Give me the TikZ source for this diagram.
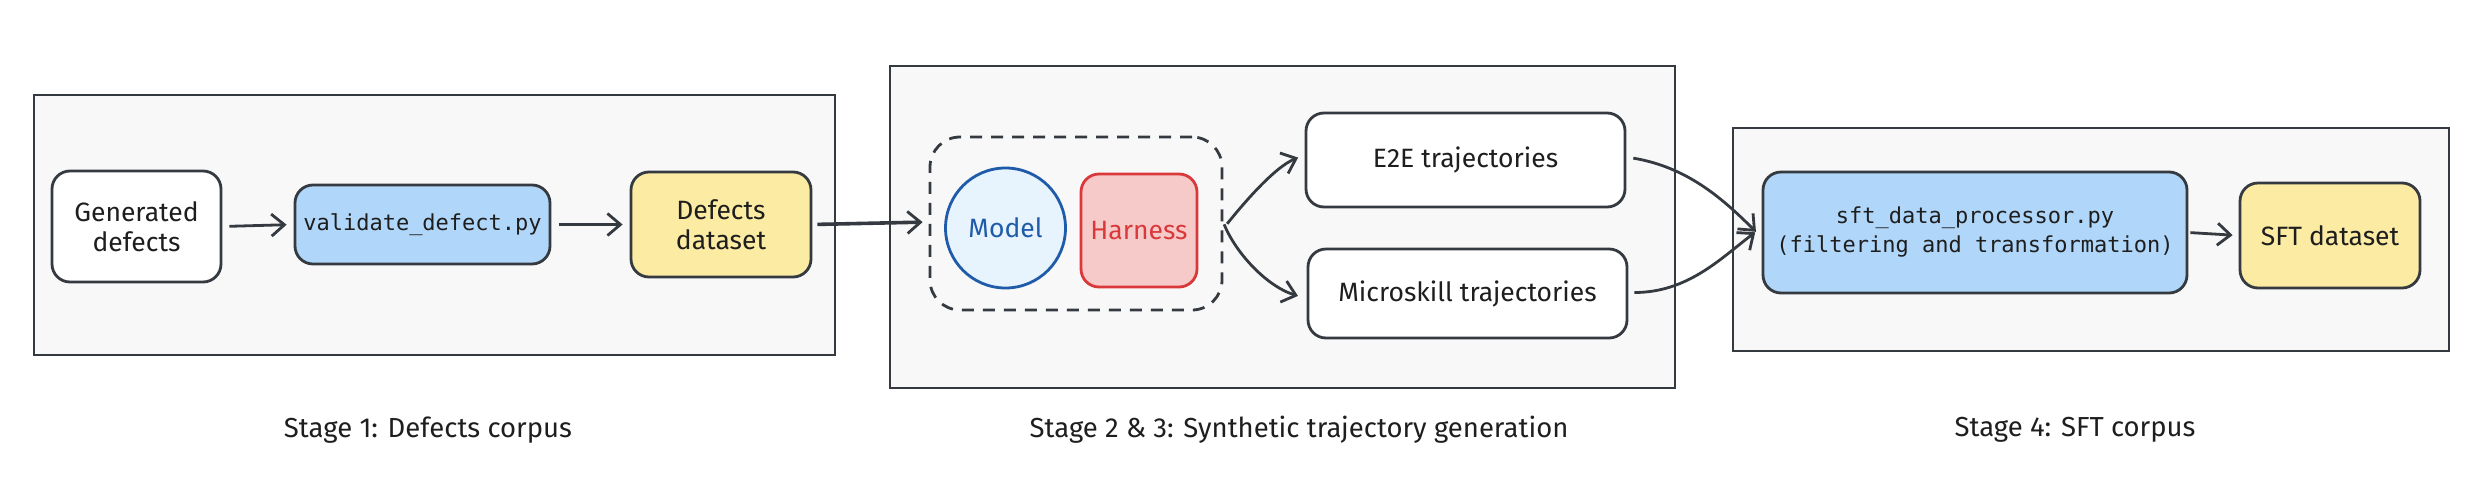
\documentclass[tikz,border=0pt]{standalone}
\usepackage{fontspec}
\setmainfont{Fira Sans}
\newfontfamily\codefont{DejaVu Sans Mono}
\usetikzlibrary{arrows.meta}
\definecolor{ink}{HTML}{343A40}
\definecolor{txt}{HTML}{1E1E1E}
\definecolor{panel}{HTML}{F8F8F8}
\definecolor{bluefill}{HTML}{B0D7FA}
\definecolor{yellowfill}{HTML}{FCEBA2}
\definecolor{modelfill}{HTML}{E7F3FD}
\definecolor{modelline}{HTML}{1F5BA8}
\definecolor{harnfill}{HTML}{F7CACA}
\definecolor{harnline}{HTML}{D9393A}
\begin{document}
\begin{tikzpicture}[x=1pt,y=-1pt,
  panelbox/.style={draw=ink, fill=panel, line width=2.8pt, inner sep=0pt},
  itembox/.style={draw=ink, line width=2.8pt, rounded corners=18pt, align=center,
    text=txt, inner sep=0pt, font=\fontsize{26.5}{30}\selectfont},
  codebox/.style={itembox, fill=bluefill, font=\fontsize{22}{29}\codefont},
  databox/.style={itembox, fill=yellowfill},
  whitebox/.style={itembox, fill=white},
  stagelabel/.style={text=txt, font=\fontsize{27.5}{32}\selectfont},
  flow/.style={draw=ink, line width=2.8pt, -{Straight Barb[length=13pt,width=22pt,line width=2.8pt]}},
]
\useasboundingbox (0,0) rectangle (2488,490);
% panels
\node[panelbox, minimum width=801pt, minimum height=260pt] (p1) at (434.5,225) {};
\node[panelbox, minimum width=785pt, minimum height=322pt] (p2) at (1282.5,227) {};
\node[panelbox, minimum width=716pt, minimum height=223pt] (p4) at (2091,239.5) {};
% stage 1
\node[whitebox, minimum width=169pt, minimum height=111pt] (gen) at (136.5,226.5) {Generated\\defects};
\node[codebox, minimum width=255pt, minimum height=79pt] (val) at (422.5,224.5) {validate\_defect.py};
\node[databox, minimum width=180pt, minimum height=105pt] (dd) at (721,224.5) {Defects\\dataset};
% stage 2
\node[draw=ink, line width=2.8pt, dash pattern=on 12pt off 9pt, rounded corners=30pt,
  minimum width=292pt, minimum height=173pt, inner sep=0pt] (grp) at (1076,223.5) {};
\node[circle, draw=modelline, fill=modelfill, line width=2.8pt, minimum size=120pt, inner sep=0pt,
  text=modelline, font=\fontsize{26.5}{30}\selectfont] (model) at (1005.5,228) {Model};
\node[draw=harnline, fill=harnfill, line width=2.8pt, rounded corners=18pt, minimum width=116pt,
  minimum height=113pt, inner sep=0pt, text=harnline, font=\fontsize{26.5}{30}\selectfont] (harn) at (1139,230.5) {Harness};
\node[whitebox, minimum width=319pt, minimum height=94pt] (e2e) at (1465.5,160) {E2E trajectories};
\node[whitebox, minimum width=319pt, minimum height=89pt] (micro) at (1467.5,293.5) {Microskill trajectories};
% stage 4
\node[codebox, minimum width=424pt, minimum height=121pt] (sft) at (1975,232.5) {sft\_data\_processor.py\\(filtering and transformation)};
\node[databox, minimum width=180pt, minimum height=105pt] (sftd) at (2330,235.5) {SFT dataset};
% labels
\node[stagelabel] (l1) at (428,430) {Stage 1: Defects corpus};
\node[stagelabel] (l2) at (1299,430) {Stage 2 \& 3: Synthetic trajectory generation};
\node[stagelabel] (l4) at (2075,430) {Stage 4: SFT corpus};
% connectors
\draw[flow, shorten <=7pt, shorten >=7pt] (gen.east) -- (val.west);
\draw[flow, shorten <=8pt, shorten >=7pt] (val.east) -- (dd.west);
\draw[flow, line width=3.6pt, shorten <=5pt, shorten >=6pt] (dd.east) -- ([yshift=1.5pt]grp.west);
\draw[flow, shorten <=6pt, shorten >=7pt] ([yshift=-5pt]grp.east) .. controls +(20,-25) and +(-30,12) .. ([yshift=5pt]e2e.west);
\draw[flow, shorten <=2pt, shorten >=9pt] ([yshift=1pt]grp.east) .. controls +(12,30) and +(-40,-12) .. ([yshift=-5pt]micro.west);
\draw[flow, shorten <=7pt, shorten >=8pt] ([yshift=3pt]e2e.east) .. controls +(60,10) and +(-40,-40) .. ([yshift=-5pt]sft.west);
\draw[flow, shorten <=6pt, shorten >=8pt] ([yshift=1pt]micro.east) .. controls +(60,0) and +(-40,30) .. ([yshift=5pt]sft.west);
\draw[flow, shorten <=2pt, shorten >=6pt] (sft.east) -- (sftd.west);
\end{tikzpicture}
\end{document}
